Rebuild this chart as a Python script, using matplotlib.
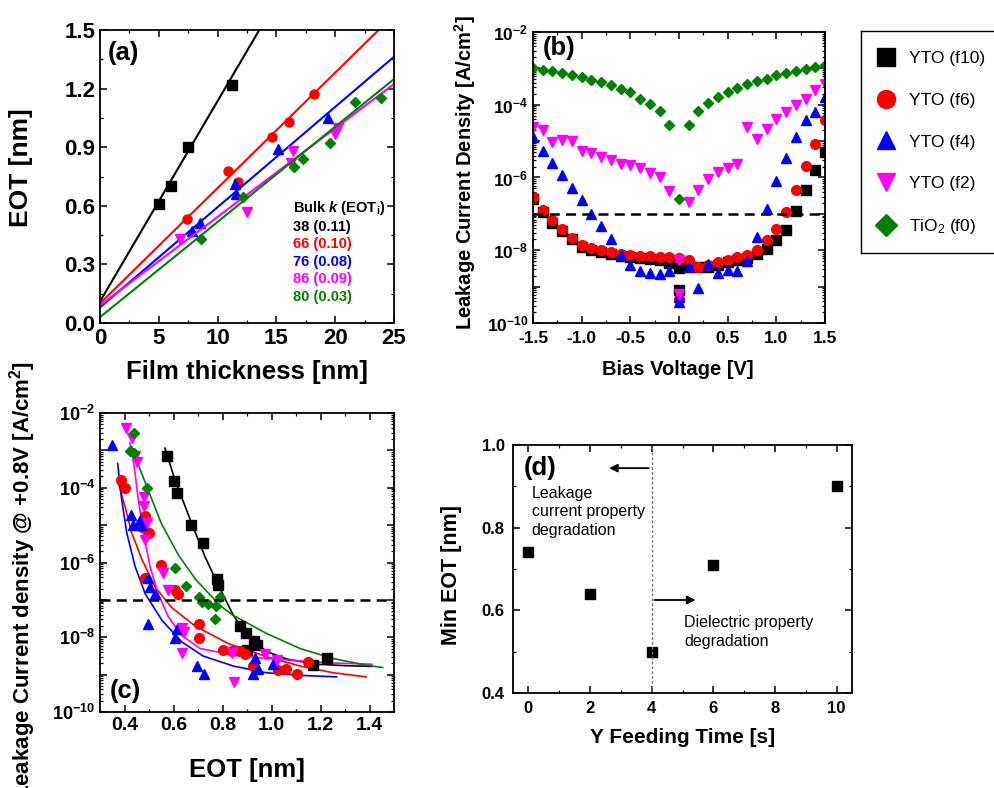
import numpy as np
import matplotlib
matplotlib.use("Agg")
import matplotlib.pyplot as plt
from matplotlib import ticker
from matplotlib.lines import Line2D

plt.rcParams.update({
    "font.family": ["Liberation Sans", "DejaVu Sans"],
    "font.weight": "bold",
    "axes.labelweight": "bold",
    "mathtext.fontset": "custom",
    "mathtext.rm": "Liberation Sans",
    "mathtext.bf": "Liberation Sans:bold",
    "mathtext.it": "Liberation Sans:italic:bold",
    "axes.unicode_minus": False,
    "axes.linewidth": 1.3,
    "xtick.direction": "in", "ytick.direction": "in",
    "xtick.top": True, "ytick.right": True,
    "xtick.major.size": 5, "ytick.major.size": 5,
    "xtick.minor.size": 2.5, "ytick.minor.size": 2.5,
    "xtick.major.width": 1.1, "ytick.major.width": 1.1,
    "xtick.minor.width": 0.9, "ytick.minor.width": 0.9,
})

# ---- series styling (legend order) ----
names = ["YTO (f10)", "YTO (f6)", "YTO (f4)", "YTO (f2)", r"TiO$_\mathregular{2}$ (f0)"]
colors = ["black", "#ff0000", "#0000ff", "#ff00ff", "#008000"]
markers = ["s", "o", "^", "v", "D"]

# ---- (a) EOT vs film thickness ----
a_thick = [
    [5.0, 6.0, 7.5, 11.2],
    [7.4, 10.9, 11.7, 14.6, 16.1, 18.2],
    [7.8, 8.5, 11.5, 11.6, 15.1, 19.4],
    [6.8, 12.5, 16.2, 16.4, 20.0, 20.2],
    [8.6, 12.2, 16.5, 17.3, 19.6, 21.7, 23.9],
]
a_eot = [
    [0.61, 0.70, 0.90, 1.22],
    [0.53, 0.78, 0.72, 0.95, 1.03, 1.17],
    [0.47, 0.51, 0.71, 0.66, 0.89, 1.05],
    [0.43, 0.57, 0.82, 0.88, 0.97, 1.00],
    [0.43, 0.645, 0.80, 0.84, 0.92, 1.13, 1.15],
]
bulk_k = [38, 66, 76, 86, 80]
eot_i = [0.11, 0.10, 0.08, 0.09, 0.03]

# ---- (b) J-V ----
bias_v = np.round(np.arange(-1.5, 1.51, 0.1), 2)
b_logj = [
    [-6.60, -6.95, -7.24, -7.48, -7.70, -7.91, -7.99, -8.05, -8.10, -8.15, -8.18,
     -8.21, -8.24, -8.28, -8.35, -8.50, -8.41, -8.46, -8.46, -8.40, -8.33, -8.26,
     -8.20, -8.11, -7.97, -7.73, -7.43, -6.93, -6.35, -5.80, -5.30],
    [-6.54, -6.90, -7.18, -7.42, -7.65, -7.86, -7.94, -8.00, -8.05, -8.09, -8.12,
     -8.15, -8.17, -8.19, -8.19, -8.22, -8.26, -8.46, -8.41, -8.32, -8.26, -8.19,
     -8.14, -8.00, -7.73, -7.42, -6.95, -6.33, -5.69, -5.09, -4.41],
    [-4.89, -5.27, -5.60, -5.94, -6.30, -6.63, -6.99, -7.34, -7.69, -8.12, -8.40,
     -8.58, -8.62, -8.66, -8.56, -9.28, -8.46, -9.03, -8.37, -8.63, -8.53, -8.56,
     -8.29, -7.64, -6.86, -6.09, -5.47, -4.89, -4.42, -4.21, -3.79],
    [-4.60, -4.70, -5.02, -4.98, -5.00, -5.28, -5.34, -5.44, -5.51, -5.64, -5.66,
     -5.73, -5.88, -6.00, -6.37, -8.28, -6.67, -6.35, -6.03, -5.85, -5.73, -5.62,
     -4.61, -4.93, -4.66, -4.38, -4.20, -4.02, -3.83, -3.60, -3.42],
    [-2.99, -3.05, -3.08, -3.13, -3.19, -3.25, -3.33, -3.37, -3.45, -3.56, -3.65,
     -3.83, -3.97, -4.17, -4.56, -6.58, -4.56, -4.17, -3.95, -3.79, -3.65, -3.54,
     -3.44, -3.36, -3.28, -3.19, -3.13, -3.07, -3.02, -2.96, -2.92],
]
# second reading taken at 0 V
b_zero_logj = [-9.08, -9.35, -9.42, -9.19, None]
j_limit = 1e-7

# ---- (c) J @ +0.8 V vs EOT ----
c_eot = [
    [0.572, 0.602, 0.616, 0.670, 0.719, 0.776, 0.783, 0.871, 0.895, 0.899, 0.929, 0.942, 1.171, 1.225],
    [0.386, 0.402, 0.470, 0.484, 0.500, 0.549, 0.484, 0.606, 0.620, 0.704, 0.705, 0.803, 0.837,
     0.871, 0.891, 0.926, 1.028, 1.059, 1.103, 1.150],
    [0.348, 0.427, 0.436, 0.463, 0.473, 0.497, 0.504, 0.524, 0.497, 0.613, 0.606, 0.694, 0.726,
     0.933, 0.926, 0.946, 1.005],
    [0.405, 0.429, 0.443, 0.449, 0.481, 0.481, 0.490, 0.484, 0.558, 0.576, 0.636, 0.644, 0.633,
     0.837, 0.848, 0.973, 1.021],
    [0.440, 0.422, 0.437, 0.490, 0.606, 0.650, 0.704, 0.715, 0.742, 0.772, 0.790, 0.769],
]
c_logj = [
    [-3.14, -3.81, -4.15, -4.99, -5.47, -6.45, -6.60, -7.70, -7.88, -8.33, -8.10, -8.21, -8.75, -8.55],
    [-3.79, -4.01, -5.04, -4.75, -5.22, -6.07, -6.42, -6.74, -6.83, -7.65, -8.01, -8.33, -8.36,
     -8.38, -8.45, -8.77, -8.88, -8.84, -8.97, -8.67],
    [-2.85, -4.73, -5.00, -4.86, -5.00, -6.42, -6.66, -6.83, -7.65, -7.79, -8.03, -8.77, -8.99,
     -8.55, -8.97, -8.86, -8.72],
    [-2.40, -2.67, -3.16, -3.30, -4.24, -4.50, -4.95, -5.40, -6.29, -6.74, -7.76, -7.85, -8.43,
     -8.43, -9.20, -8.46, -8.60],
    [-2.54, -3.03, -3.08, -4.01, -6.16, -6.63, -6.92, -7.05, -7.11, -7.17, -6.92, -7.50],
]
fit_eot = [
    [0.565, 0.606, 0.674, 0.729, 0.778, 0.843, 0.90, 0.98, 1.06, 1.18, 1.30, 1.41],
    [0.372, 0.402, 0.429, 0.47, 0.524, 0.592, 0.688, 0.824, 0.98, 1.116, 1.252, 1.386],
    [0.372, 0.388, 0.409, 0.443, 0.484, 0.552, 0.633, 0.72, 0.844, 0.98, 1.116, 1.266],
    [0.422, 0.44, 0.456, 0.477, 0.504, 0.538, 0.579, 0.633, 0.708, 0.844, 0.98, 1.116, 1.252, 1.409],
    [0.43, 0.46, 0.49, 0.55, 0.62, 0.69, 0.79, 0.84, 0.98, 1.116, 1.252, 1.389, 1.454],
]
fit_logj = [
    [-2.94, -3.79, -4.95, -5.85, -6.54, -7.40, -7.95, -8.38, -8.58, -8.72, -8.76, -8.78],
    [-3.80, -4.50, -5.20, -5.90, -6.65, -7.20, -7.70, -8.17, -8.52, -8.77, -8.95, -9.06],
    [-3.35, -4.30, -5.20, -6.10, -6.83, -7.54, -8.12, -8.50, -8.77, -8.95, -9.02, -9.06],
    [-2.80, -3.45, -4.30, -5.20, -6.10, -6.85, -7.45, -7.95, -8.30, -8.48, -8.57, -8.63, -8.69, -8.72],
    [-2.90, -3.45, -3.95, -4.95, -5.80, -6.45, -7.15, -7.40, -7.90, -8.30, -8.57, -8.75, -8.81],
]

# ---- (d) min EOT vs Y feeding time ----
feed_time = [0, 2, 4, 6, 10]
min_eot = [0.74, 0.64, 0.50, 0.71, 0.90]

W, H = 994, 788
fig = plt.figure(figsize=(W / 100, H / 100), dpi=100)


def box(l, t, r, b):
    return [l / W, 1 - b / H, (r - l) / W, (b - t) / H]


def log_fmt(v, pos):
    e = int(round(np.log10(v)))
    return r"$\mathbf{10^{%d}}$" % e if e % 2 == 0 else ""


def log_axis(ax, size):
    ax.set_yscale("log")
    ax.set_ylim(1e-10, 1e-2)
    ax.yaxis.set_major_locator(ticker.LogLocator(base=10, numticks=20))
    ax.yaxis.set_minor_locator(ticker.LogLocator(base=10, subs=np.arange(2, 10), numticks=20))
    ax.yaxis.set_minor_formatter(ticker.NullFormatter())
    ax.yaxis.set_major_formatter(ticker.FuncFormatter(log_fmt))
    ax.tick_params(axis="y", labelsize=size)


# (a)
ax = fig.add_axes(box(100, 30, 394, 323))
t_line = np.array([0.0, 25.0])
for i in range(5):
    ax.plot(t_line, eot_i[i] + 3.9 * t_line / bulk_k[i], color=colors[i], lw=1.5)
    ax.plot(a_thick[i], a_eot[i], ls="none", marker=markers[i], color=colors[i],
            ms=5.5 if markers[i] == "D" else 6.5, mec=colors[i])
ax.set_xlim(0, 25)
ax.set_ylim(0, 1.5)
ax.xaxis.set_major_locator(ticker.MultipleLocator(5))
ax.xaxis.set_minor_locator(ticker.MultipleLocator(2.5))
ax.yaxis.set_major_locator(ticker.MultipleLocator(0.3))
ax.yaxis.set_minor_locator(ticker.MultipleLocator(0.15))
ax.yaxis.set_major_formatter(ticker.FormatStrFormatter("%.1f"))
ax.tick_params(labelsize=16)
ax.set_xlabel("Film thickness [nm]", fontsize=18.5)
ax.set_ylabel("EOT [nm]", fontsize=19)
ax.xaxis.set_label_coords(0.5, -0.126)
ax.yaxis.set_label_coords(-0.228, 0.53)
ax.text(0.027, 0.92, "(a)", transform=ax.transAxes, fontsize=18.5, va="center")
ax.text(16.4, 0.587, r"Bulk $k$ (EOT$_\mathbf{i}$)", fontsize=10.5, va="center")
for i in range(5):
    ax.text(16.4, 0.493 - 0.09 * i, f"{bulk_k[i]} ({eot_i[i]:.2f})", color=colors[i],
            fontsize=10.5, va="center")

# (b)
ax = fig.add_axes(box(533, 32, 825, 323))
for i in range(5):
    ax.plot(bias_v, 10.0 ** np.array(b_logj[i]), ls="none", marker=markers[i],
            color=colors[i], ms=5.5 if markers[i] == "D" else 7)
    if b_zero_logj[i] is not None:
        ax.plot([0.0], [10.0 ** b_zero_logj[i]], ls="none", marker=markers[i],
                color=colors[i], ms=7)
ax.axhline(j_limit, color="black", lw=1.8, ls=(0, (4, 2.5)))
log_axis(ax, 12.5)
ax.set_xlim(-1.5, 1.5)
ax.xaxis.set_major_locator(ticker.MultipleLocator(0.5))
ax.xaxis.set_minor_locator(ticker.MultipleLocator(0.25))
ax.xaxis.set_major_formatter(ticker.FormatStrFormatter("%.1f"))
ax.tick_params(axis="x", labelsize=12.5, pad=6)
ax.set_xlabel("Bias Voltage [V]", fontsize=14.5)
ax.set_ylabel(r"Leakage Current Density [A/cm$^\mathbf{2}$]", fontsize=14.5)
ax.xaxis.set_label_coords(0.497, -0.127)
ax.yaxis.set_label_coords(-0.188, 0.517)
ax.text(0.034, 0.945, "(b)", transform=ax.transAxes, fontsize=18.5, va="center")

# legend box at the right edge
lax = fig.add_axes(box(861, 31, 1060, 253))
lax.set_xticks([])
lax.set_yticks([])
for s in lax.spines.values():
    s.set_linewidth(1.0)
handles = [Line2D([], [], ls="none", marker=markers[i], color=colors[i],
                  ms=11 if markers[i] == "D" else 13) for i in range(5)]
lax.legend(handles, names, loc="upper left", bbox_to_anchor=(0.04, 0.94), frameon=False,
           prop={"size": 12.5, "weight": "normal"}, handlelength=1.2, handletextpad=0.7,
           labelspacing=1.52, borderaxespad=0.0)

# (c)
ax = fig.add_axes(box(100, 413, 394, 712))
for i in range(5):
    ax.plot(fit_eot[i], 10.0 ** np.array(fit_logj[i]), color=colors[i], lw=1.2)
for i in range(5):
    ax.plot(c_eot[i], 10.0 ** np.array(c_logj[i]), ls="none", marker=markers[i],
            color=colors[i], ms=5.5 if markers[i] == "D" else 7)
ax.axhline(j_limit, color="black", lw=1.8, ls=(0, (4, 2.5)))
log_axis(ax, 13)
ax.set_xlim(0.3, 1.5)
ax.xaxis.set_major_locator(ticker.MultipleLocator(0.2))
ax.xaxis.set_minor_locator(ticker.MultipleLocator(0.1))
ax.xaxis.set_major_formatter(ticker.FormatStrFormatter("%.1f"))
ax.tick_params(axis="x", labelsize=14)
ax.set_xlabel("EOT [nm]", fontsize=18.5)
ax.set_ylabel(r"Leakage Current density @ +0.8V [A/cm$^\mathbf{2}$]", fontsize=16)
ax.xaxis.set_label_coords(0.5, -0.154)
ax.yaxis.set_label_coords(-0.211, 0.44)
ax.text(0.034, 0.07, "(c)", transform=ax.transAxes, fontsize=18.5, va="center")

# (d)
ax = fig.add_axes(box(513, 445, 852, 693))
ax.plot(feed_time, min_eot, ls="none", marker="s", color="black", ms=6.5)
ax.axvline(4, color="#777777", lw=1.0, ls=(0, (2, 1.5)))
ax.annotate("", xy=(2.53, 0.944), xytext=(4, 0.944),
            arrowprops=dict(arrowstyle="-|>", color="black", lw=1.3, mutation_scale=12))
ax.annotate("", xy=(5.51, 0.625), xytext=(4, 0.625),
            arrowprops=dict(arrowstyle="-|>", color="black", lw=1.3, mutation_scale=12))
ax.text(0.11, 0.902, "Leakage\ncurrent property\ndegradation", fontsize=11.5,
        weight="normal", va="top", linespacing=1.3)
ax.text(5.05, 0.588, "Dielectric property\ndegradation", fontsize=11.5,
        weight="normal", va="top", linespacing=1.3)
ax.set_xlim(-0.5, 10.5)
ax.set_ylim(0.4, 1.0)
ax.xaxis.set_major_locator(ticker.MultipleLocator(2))
ax.xaxis.set_minor_locator(ticker.MultipleLocator(1))
ax.yaxis.set_major_locator(ticker.MultipleLocator(0.2))
ax.yaxis.set_minor_locator(ticker.MultipleLocator(0.1))
ax.yaxis.set_major_formatter(ticker.FormatStrFormatter("%.1f"))
ax.tick_params(labelsize=12, pad=6)
ax.set_xlabel("Y Feeding Time [s]", fontsize=15)
ax.set_ylabel("Min EOT [nm]", fontsize=15.5)
ax.xaxis.set_label_coords(0.5, -0.141)
ax.yaxis.set_label_coords(-0.15, 0.474)
ax.text(0.032, 0.909, "(d)", transform=ax.transAxes, fontsize=18.5, va="center")

fig.savefig("out.png", dpi=100)
